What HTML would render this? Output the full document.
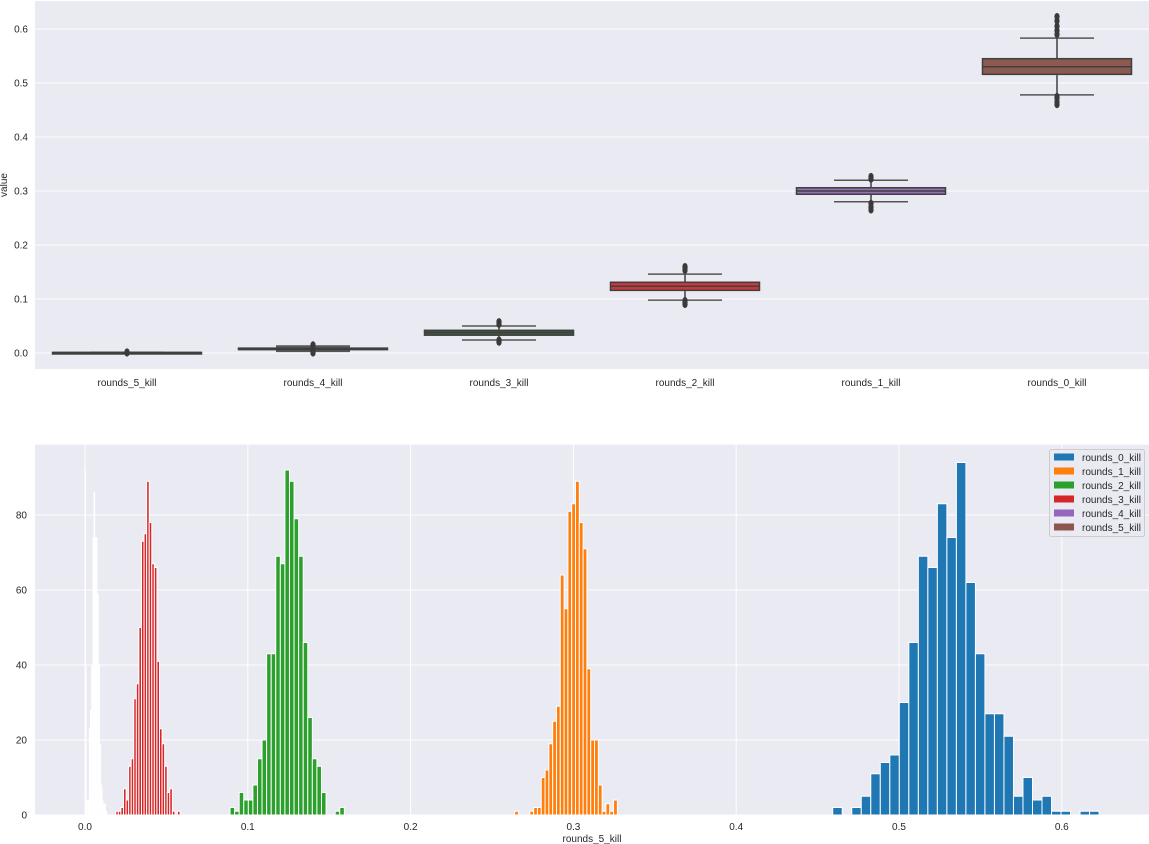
<!DOCTYPE html>
<html><head><meta charset="utf-8">
<style>
html,body{margin:0;padding:0;background:#fff;}
svg{display:block;font-family:"Liberation Sans",Arial,sans-serif;}
text{fill:#262626;font-size:10px;}
</style></head>
<body>
<svg id="fig" width="1149" height="844" viewBox="0 0 1149 844" xmlns="http://www.w3.org/2000/svg"></svg>
<script>
// ---------- Box plot data ----------
const boxCategories = ["rounds_5_kill","rounds_4_kill","rounds_3_kill","rounds_2_kill","rounds_1_kill","rounds_0_kill"];
const boxQ1 = [0.001,0.007,0.033,0.116,0.294,0.516];
const boxMedian = [0.001,0.008,0.038,0.1235,0.300,0.530];
const boxQ3 = [0.001,0.009,0.042,0.131,0.306,0.545];
const whiskerLow = [0.001,0.003,0.024,0.098,0.280,0.478];
const whiskerHigh = [0.001,0.013,0.050,0.146,0.320,0.583];
const outliersLow = [[0.0],[0.0,0.002],[0.020,0.022,0.024],[0.090,0.093,0.097],[0.265,0.270,0.277],[0.460,0.465,0.472,0.475]];
const outliersHigh = [[0.002],[0.013,0.015],[0.053,0.056,0.058],[0.153,0.157,0.160],[0.322,0.325,0.327],[0.590,0.597,0.605,0.615,0.623]];
const boxColors = ["#3a3a3a","#5f5f5f","#3f5a3f","#c8383a","#9470b6","#8c5a50"];
const boxYTicks = [0.0,0.1,0.2,0.3,0.4,0.5,0.6];

// ---------- Histogram data ----------
const histSeries = ["rounds_0_kill","rounds_1_kill","rounds_2_kill","rounds_3_kill","rounds_4_kill","rounds_5_kill"];
const histColors = ["#1f77b4","#ff7f0e","#2ca02c","#d62728","#9467bd","#8c564b"];
const hist0Range = [0.4593,0.6229];
const hist0Counts = [2,0,2,5,11,14,16,30,46,69,66,83,74,94,62,43,27,27,21,5,10,4,5,1,1,0,1,1];
const hist1Range = [0.2639,0.327];
const hist1Counts = [1,0,0,0,1,2,2,10,12,19,25,29,64,55,81,83,89,78,71,39,20,20,8,1,3,1,4];
const hist2Range = [0.0891,0.1593];
const hist2Counts = [2,1,6,4,4,8,15,20,43,43,69,67,92,89,79,69,46,26,15,13,6,0,0,1,2];
const hist3Range = [0.0189,0.0584];
const hist3Counts = [1,1,2,7,4,13,15,31,35,50,73,75,89,78,67,66,41,23,19,13,6,7,1,0,1];
const hist4Range = [0.001,0.0135];
const hist4Counts = [4,4,23,28,40,74,86,74,74,59,40,19,8,4,3,3,1];
const hist5Range = [0.0002,0.0020];
const hist5Counts = [92,40,4,2,1,1];
const histXTicks = [0.0,0.1,0.2,0.3,0.4,0.5,0.6];
const histYTicks = [0,20,40,60,80];

const NS="http://www.w3.org/2000/svg";
const svg=document.getElementById('fig');
function mk(tag,attrs,parent){const e=document.createElementNS(NS,tag);for(const k in attrs)e.setAttribute(k,attrs[k]);(parent||svg).appendChild(e);return e;}

// ---------- Top box plot ----------
const T={x0:35,x1:1149,y0:1,y1:369};
const ty=v=>353-v*540;
const tx=i=>127+i*186;
const topG=mk('g',{});


const tbg=mk('rect',{x:T.x0,y:T.y0,width:T.x1-T.x0,height:T.y1-T.y0,fill:'#eaeaf2'},topG);


boxYTicks.forEach(v=>{
  const g=mk('line',{x1:T.x0,x2:T.x1,y1:ty(v),y2:ty(v),stroke:'#fff','stroke-width':1},topG);
  
  
  const t=mk('text',{x:28,y:ty(v)+3.5,'text-anchor':'end'},topG);
  t.textContent=v.toFixed(1);
  
  
});
const yl=mk('text',{x:0,y:0,transform:'translate(7,185) rotate(-90)','text-anchor':'middle'},topG);
yl.textContent='value';


boxCategories.forEach((c,i)=>{
  const cx=tx(i), hw=74.5, ww=37;
  const g=mk('g',{},topG);
  
  
  const ec='#3f3f3f';
  if(i===1){
    mk('rect',{x:cx-ww,y:ty(whiskerHigh[i]),width:2*ww,height:ty(whiskerLow[i])-ty(whiskerHigh[i]),fill:'#666666'},g);
  }
  mk('line',{x1:cx,x2:cx,y1:ty(whiskerHigh[i]),y2:ty(boxQ3[i]),stroke:ec,'stroke-width':1.5},g);
  mk('line',{x1:cx,x2:cx,y1:ty(boxQ1[i]),y2:ty(whiskerLow[i]),stroke:ec,'stroke-width':1.5},g);
  mk('line',{x1:cx-ww,x2:cx+ww,y1:ty(whiskerHigh[i]),y2:ty(whiskerHigh[i]),stroke:'#555','stroke-width':1.5},g);
  mk('line',{x1:cx-ww,x2:cx+ww,y1:ty(whiskerLow[i]),y2:ty(whiskerLow[i]),stroke:'#555','stroke-width':1.5},g);
  const h=Math.max(ty(boxQ1[i])-ty(boxQ3[i]),1.5);
  mk('rect',{x:cx-hw,y:ty(boxQ3[i]),width:2*hw,height:h,fill:boxColors[i],stroke:ec,'stroke-width':1.5},g);
  mk('line',{x1:cx-hw,x2:cx+hw,y1:ty(boxMedian[i]),y2:ty(boxMedian[i]),stroke:ec,'stroke-width':1.5},g);
  outliersLow[i].concat(outliersHigh[i]).forEach(v=>{
    const o=mk('ellipse',{cx:cx,cy:ty(v),rx:2.6,ry:3.6,fill:'#3a3a3a'},g);
    
    
  });
  const t=mk('text',{x:cx,y:386,'text-anchor':'middle'},topG);
  t.textContent=c;
  
  
});

// ---------- Bottom histogram ----------
const B={x0:35,x1:1149,y0:444.7,y1:815};
const bx=v=>85+v*1628;
const by=v=>815-v*3.75;
const botG=mk('g',{});


const bbg=mk('rect',{x:B.x0,y:B.y0,width:B.x1-B.x0,height:B.y1-B.y0,fill:'#eaeaf2'},botG);


histYTicks.forEach(v=>{
  const g=mk('line',{x1:B.x0,x2:B.x1,y1:by(v),y2:by(v),stroke:'#fff','stroke-width':1},botG);
  
  
  const t=mk('text',{x:27,y:by(v)+3.5,'text-anchor':'end'},botG);
  t.textContent=v;
  
  
});
histXTicks.forEach(v=>{
  const g=mk('line',{x1:bx(v),x2:bx(v),y1:B.y0,y2:B.y1,stroke:'#fff','stroke-width':1},botG);
  
  
  const t=mk('text',{x:bx(v),y:830,'text-anchor':'middle'},botG);
  t.textContent=v.toFixed(1);
  
  
});
const xl=mk('text',{x:592,y:842,'text-anchor':'middle'},botG);
xl.textContent='rounds_5_kill';



const ranges=[hist0Range,hist1Range,hist2Range,hist3Range,hist4Range,hist5Range];
const counts=[hist0Counts,hist1Counts,hist2Counts,hist3Counts,hist4Counts,hist5Counts];
const fills=["#1f77b4","#ff7f0e","#2ca02c","#d62728","#ffffff","#ffffff"];
ranges.forEach((r,s)=>{
  const g=mk('g',{},botG);
  
  
  const n=counts[s].length, w=(r[1]-r[0])/n;
  counts[s].forEach((c,k)=>{
    if(c<=0)return;
    const xa=bx(r[0]+k*w), xb=bx(r[0]+(k+1)*w);
    const b=mk('rect',{x:xa,y:by(c),width:Math.max(xb-xa,0.5),height:by(0)-by(c),fill:fills[s],stroke:'#fff','stroke-width':s<4?1:0.3},g);
    
    
  });
});

// legend
const lg=mk('g',{},botG);


mk('rect',{x:1049.5,y:449.5,width:95,height:87,fill:'#eaeaf2','fill-opacity':0.8,stroke:'#cccccc','stroke-width':1,rx:2},lg);
histSeries.forEach((nm,i)=>{
  const e=mk('g',{},lg);
  
  
  mk('rect',{x:1054,y:453.5+i*14,width:20,height:7,fill:histColors[i]},e);
  const t=mk('text',{x:1082,y:461+i*14},e);
  t.textContent=nm;
});
</script>
</body></html>
